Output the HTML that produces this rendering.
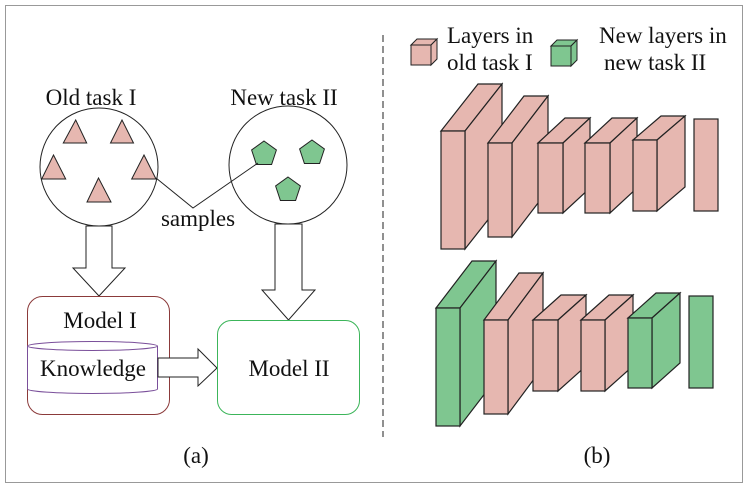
<!DOCTYPE html>
<html><head><meta charset="utf-8"><style>
html,body{margin:0;padding:0;background:#fff}
svg{display:block}
text{font-family:"Liberation Serif","DejaVu Serif","Times New Roman",serif;fill:#111}
</style></head><body>
<svg width="748" height="488" viewBox="0 0 748 488" xmlns="http://www.w3.org/2000/svg">
<rect x="5.5" y="5.5" width="737" height="477" fill="none" stroke="#999" stroke-width="1"/>
<line x1="383" y1="35" x2="383" y2="437" stroke="#222" stroke-width="1" stroke-dasharray="7,4"/>

<g font-family="Liberation Serif, DejaVu Serif, serif" font-size="23">
<text x="91" y="105" text-anchor="middle">Old task I</text>
<text x="284" y="105" text-anchor="middle">New task II</text>
<text x="198" y="226" text-anchor="middle">samples</text>
<text x="100" y="328" text-anchor="middle">Model I</text>
<text x="93" y="376" text-anchor="middle">Knowledge</text>
<text x="289" y="376" text-anchor="middle">Model II</text>
<text x="196" y="463" text-anchor="middle">(a)</text>
<text x="597" y="463" text-anchor="middle">(b)</text>
<text x="447" y="43">Layers in</text>
<text x="447" y="70">old task I</text>
<text x="599" y="43">New layers in</text>
<text x="604" y="70">new task II</text>
</g>

<circle cx="99" cy="167" r="59" fill="none" stroke="#222" stroke-width="1"/>
<circle cx="288" cy="165" r="59" fill="none" stroke="#222" stroke-width="1"/>
<g fill="#e6b7b0" stroke="#222" stroke-width="1">
<polygon points="75.7,120 63.3,143 86.7,143"/>
<polygon points="122,120 110.5,143 133.5,143"/>
<polygon points="53.5,155 41.7,179 65.7,179"/>
<polygon points="144,155 131.7,179 156,179"/>
<polygon points="98.5,178 87,202 111,202"/>
</g>
<g fill="#7fc690" stroke="#222" stroke-width="1">
<polygon points="264,141 276.4,150 271.6,164.5 256.4,164.5 251.6,150"/>
<polygon points="312,140 324.4,149 319.6,163.5 304.4,163.5 299.6,149"/>
<polygon points="288,177 300.4,186 295.6,200.5 280.4,200.5 275.6,186"/>
</g>
<polyline points="156,178 193,208 258,163" fill="none" stroke="#222" stroke-width="1"/>

<polygon points="86,226 112,226 112,268 125,268 99,296 73,268 86,268" fill="#fff" stroke="#222" stroke-width="1"/>
<polygon points="275,224 302,224 302,290 315,290 288.5,320 262,290 275,290" fill="#fff" stroke="#222" stroke-width="1"/>

<rect x="27.5" y="296.5" width="142" height="118" rx="15" fill="none" stroke="#8b3a3a" stroke-width="1"/>
<path d="M27.5,346 L27.5,389 A65,4.5 0 0 0 157.5,389 L157.5,346" fill="none" stroke="#7a4f9a" stroke-width="1"/>
<ellipse cx="92.5" cy="346" rx="65" ry="4.5" fill="none" stroke="#7a4f9a" stroke-width="1"/>
<polygon points="158,358 198,358 198,349 217,368 198,386 198,377 158,377" fill="#fff" stroke="#222" stroke-width="1"/>
<rect x="217.5" y="320.5" width="142" height="94" rx="14" fill="none" stroke="#3cb55a" stroke-width="1"/>

<g stroke="#222" stroke-width="1">
<polygon points="411,45 417,39 437,39 431,45" fill="#e6b7b0"/>
<polygon points="431,45 437,39 437,59 431,65" fill="#e6b7b0"/>
<rect x="411" y="45" width="20" height="20" fill="#e6b7b0"/>
<polygon points="551,46 557,40 577,40 571,46" fill="#7fc690"/>
<polygon points="571,46 577,40 577,60 571,66" fill="#7fc690"/>
<rect x="551" y="46" width="20" height="20" fill="#7fc690"/>
</g>

<g stroke="#222" stroke-width="1.2">
<g fill="#e6b7b0">
<polygon points="441,131 478,84 502,84 465,131"/><polygon points="465,131 502,84 502,202 465,249"/><rect x="441" y="131" width="24" height="118"/>
<polygon points="488,143 524,96 548,96 512,143"/><polygon points="512,143 548,96 548,190 512,237"/><rect x="488" y="143" width="24" height="94"/>
<polygon points="538,143 565,118 590,118 563,143"/><polygon points="563,143 590,118 590,188 563,213"/><rect x="538" y="143" width="25" height="70"/>
<polygon points="585,143 612,118 637,118 610,143"/><polygon points="610,143 637,118 637,188 610,213"/><rect x="585" y="143" width="25" height="70"/>
<polygon points="633,140 661,116 685,116 657,140"/><polygon points="657,140 685,116 685,187 657,211"/><rect x="633" y="140" width="24" height="71"/>
<rect x="694" y="119" width="24" height="92"/>
</g>
<polygon points="436,308 472,261 496,261 460,308" fill="#7fc690"/><polygon points="460,308 496,261 496,379 460,426" fill="#7fc690"/><rect x="436" y="308" width="24" height="118" fill="#7fc690"/>
<g fill="#e6b7b0">
<polygon points="484,320 519,273 543,273 508,320"/><polygon points="508,320 543,273 543,367 508,414"/><rect x="484" y="320" width="24" height="94"/>
<polygon points="533,320 561,295 586,295 558,320"/><polygon points="558,320 586,295 586,366 558,391"/><rect x="533" y="320" width="25" height="71"/>
<polygon points="581,320 609,295 633,295 605,320"/><polygon points="605,320 633,295 633,366 605,391"/><rect x="581" y="320" width="24" height="71"/>
</g>
<g fill="#7fc690">
<polygon points="628,318 656,293 680,293 652,318"/><polygon points="652,318 680,293 680,363 652,388"/><rect x="628" y="318" width="24" height="70"/>
<rect x="689" y="296" width="24" height="92"/>
</g>
</g>
</svg>
</body></html>
